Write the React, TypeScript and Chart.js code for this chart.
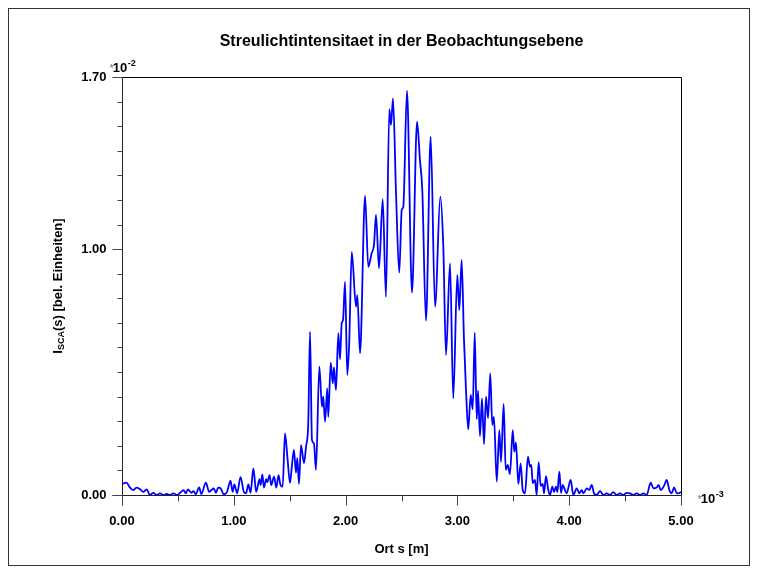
import React, { useEffect, useRef } from 'react';
import { Chart, registerables } from 'chart.js';

Chart.register(...registerables);

// ---- data (x in 1e-3 m, y in 1e-2 arbitrary units) ----
const xValues: number[] = [
  0.00, 0.04, 0.07, 0.10, 0.13, 0.16, 0.19, 0.22, 0.25, 0.28, 0.31, 0.34, 0.37, 0.40, 0.43, 0.46, 0.49,
  0.52, 0.55, 0.57, 0.59, 0.62, 0.64, 0.66, 0.69, 0.71, 0.75, 0.78, 0.80, 0.82, 0.84, 0.86, 0.88, 0.91,
  0.94, 0.97, 0.99, 1.005, 1.03, 1.06, 1.09, 1.11, 1.13, 1.15, 1.175, 1.20, 1.23, 1.24, 1.255, 1.27, 1.29,
  1.30, 1.32, 1.335, 1.36, 1.38, 1.40, 1.415, 1.437, 1.458, 1.479, 1.503, 1.518, 1.538, 1.556, 1.568,
  1.583, 1.601, 1.628, 1.646, 1.666, 1.682, 1.699, 1.717, 1.735, 1.765, 1.789, 1.800, 1.816, 1.836,
  1.845, 1.867, 1.885, 1.896, 1.914, 1.935, 1.950, 1.965, 1.977, 1.995, 2.015, 2.033, 2.055, 2.093,
  2.105, 2.129, 2.174, 2.203, 2.233, 2.254, 2.272, 2.299, 2.332, 2.361, 2.391, 2.406, 2.424, 2.451,
  2.480, 2.502, 2.516, 2.549, 2.594, 2.639, 2.665, 2.686, 2.719, 2.761, 2.800, 2.847, 2.874, 2.898,
  2.934, 2.963, 2.999, 3.017, 3.038, 3.059, 3.077, 3.097, 3.119, 3.137, 3.155, 3.173, 3.184, 3.202,
  3.220, 3.238, 3.256, 3.274, 3.294, 3.312, 3.327, 3.352, 3.375, 3.390, 3.414, 3.432, 3.450, 3.470,
  3.495, 3.509, 3.524, 3.545, 3.566, 3.584, 3.605, 3.631, 3.649, 3.661, 3.674, 3.694, 3.709, 3.727,
  3.745, 3.763, 3.775, 3.792, 3.813, 3.828, 3.849, 3.864, 3.882, 3.894, 3.912, 3.927, 3.942, 3.962,
  3.977, 4.013, 4.037, 4.067, 4.091, 4.112, 4.127, 4.157, 4.180, 4.201, 4.222, 4.246, 4.276, 4.305,
  4.335, 4.365, 4.394, 4.424, 4.454, 4.484, 4.514, 4.544, 4.573, 4.603, 4.633, 4.663, 4.693, 4.729,
  4.753, 4.783, 4.800, 4.818, 4.848, 4.872, 4.896, 4.917, 4.938, 4.962, 4.985, 5.000,
];

const yValues: number[] = [
  0.045, 0.050, 0.031, 0.020, 0.030, 0.024, 0.013, 0.023, 0.000, 0.009, 0.000, 0.007, 0.000, 0.004, 0.000, 0.007, 0.000,
  0.009, 0.020, 0.007, 0.023, 0.009, 0.016, 0.003, 0.031, 0.004, 0.050, 0.013, 0.020, 0.027, 0.009, 0.030, 0.028, 0.003,
  0.013, 0.058, 0.013, 0.043, 0.007, 0.073, 0.013, 0.007, 0.043, 0.009, 0.108, 0.013, 0.064, 0.040, 0.084, 0.030, 0.064,
  0.052, 0.081, 0.040, 0.075, 0.030, 0.081, 0.045, 0.034, 0.251, 0.156, 0.049, 0.110, 0.183, 0.091, 0.150,
  0.045, 0.203, 0.130, 0.196, 0.292, 0.664, 0.224, 0.210, 0.102, 0.522, 0.359, 0.400, 0.298, 0.434,
  0.318, 0.538, 0.454, 0.519, 0.427, 0.658, 0.552, 0.698, 0.712, 0.867, 0.488, 0.630, 0.989, 0.766,
  0.813, 0.576, 1.216, 0.928, 0.983, 1.017, 1.139, 0.922, 1.203, 0.806, 1.569, 1.505, 1.613, 1.227,
  0.904, 1.159, 1.172, 1.644, 0.823, 1.518, 1.362, 1.240, 0.709, 1.457, 0.766, 1.213, 1.010, 0.569,
  0.942, 0.393, 0.895, 0.752, 0.956, 0.630, 0.427, 0.267, 0.407, 0.349, 0.660, 0.308, 0.424, 0.240,
  0.393, 0.207, 0.400, 0.312, 0.495, 0.285, 0.318, 0.054, 0.264, 0.135, 0.370, 0.102, 0.122, 0.085,
  0.264, 0.176, 0.213, 0.045, 0.129, 0.020, 0.007, 0.156, 0.115, 0.122, 0.048, 0.061, 0.000, 0.134,
  0.037, 0.045, 0.007, 0.077, 0.020, 0.000, 0.034, 0.012, 0.034, 0.012, 0.095, 0.008, 0.041, 0.020,
  0.007, 0.061, 0.000, 0.027, 0.007, 0.020, 0.007, 0.027, 0.020, 0.041, 0.007, 0.000, 0.016, 0.000,
  0.007, 0.000, 0.012, 0.000, 0.007, 0.000, 0.009, 0.007, 0.000, 0.007, 0.000, 0.007, 0.000, 0.050,
  0.027, 0.031, 0.041, 0.020, 0.037, 0.061, 0.020, 0.007, 0.031, 0.007, 0.008, 0.013,
];

const xMajorTicks: number[] = [0, 1, 2, 3, 4, 5];
const xMajorLabels: string[] = ['0.00', '1.00', '2.00', '3.00', '4.00', '5.00'];
const xMinorTicks: number[] = [0.5, 1.5, 2.5, 3.5, 4.5];
const yLabelTicks: number[] = [0, 1, 1.7];
const yTickLabels: string[] = ['0.00', '1.00', '1.70'];
const yMinorTicks: number[] = [0.1, 0.2, 0.3, 0.4, 0.5, 0.6, 0.7, 0.8, 0.9, 1.1, 1.2, 1.3, 1.4, 1.5, 1.6];

const TITLE = 'Streulichtintensitaet in der Beobachtungsebene';
const X_TITLE = 'Ort s [m]';
const Y_TITLE_MAIN = 'I';
const Y_TITLE_SUB = 'SCA';
const Y_TITLE_REST = '(s) [bel. Einheiten]';

const FONT = '"Liberation Sans", Arial, Helvetica, sans-serif';

function drawSci(ctx: CanvasRenderingContext2D, x: number, baseY: number, exp: string) {
  ctx.textAlign = 'left';
  ctx.textBaseline = 'alphabetic';
  ctx.fillStyle = '#777';
  ctx.font = `11px ${FONT}`;
  ctx.fillText('*', x, baseY);
  const sw = ctx.measureText('*').width - 1;
  ctx.fillStyle = '#000';
  ctx.font = `bold 13px ${FONT}`;
  ctx.fillText('10', x + sw, baseY);
  const tw = ctx.measureText('10').width;
  ctx.font = `bold 9px ${FONT}`;
  ctx.fillText(exp, x + sw + tw + 0.5, baseY - 6);
}

const decorPlugin = {
  id: 'decor',
  beforeDatasetsDraw(chart: any) {
    const ctx: CanvasRenderingContext2D = chart.ctx;
    const { left, right, top, bottom } = chart.chartArea;
    const sx = chart.scales.x;
    const sy = chart.scales.y;
    const L = Math.round(left) + 0.5;
    const R = Math.round(right) + 0.5;
    const T = Math.round(top) + 0.5;
    const B = Math.round(bottom) + 0.5;
    ctx.save();

    // outer frame
    ctx.strokeStyle = '#333';
    ctx.lineWidth = 1;
    ctx.strokeRect(8.5, 8.5, 741, 557);

    // plot box top and right
    ctx.strokeStyle = '#000';
    ctx.beginPath();
    ctx.moveTo(L, T);
    ctx.lineTo(R, T);
    ctx.lineTo(R, B);
    ctx.stroke();

    // axes lines
    ctx.strokeStyle = '#222';
    ctx.beginPath();
    ctx.moveTo(L, T);
    ctx.lineTo(L, B + 10);
    ctx.moveTo(L - 10, B);
    ctx.lineTo(R, B);
    ctx.stroke();

    // y ticks
    ctx.strokeStyle = '#444';
    ctx.beginPath();
    yMinorTicks.forEach((v) => {
      const py = Math.round(sy.getPixelForValue(v)) + 0.5;
      ctx.moveTo(L - 5, py);
      ctx.lineTo(L, py);
    });
    yLabelTicks.forEach((v) => {
      const py = Math.round(sy.getPixelForValue(v)) + 0.5;
      ctx.moveTo(L - 10, py);
      ctx.lineTo(L, py);
    });
    // x ticks
    xMinorTicks.forEach((v) => {
      const px = Math.round(sx.getPixelForValue(v)) + 0.5;
      ctx.moveTo(px, B);
      ctx.lineTo(px, B + 6);
    });
    xMajorTicks.forEach((v) => {
      const px = Math.round(sx.getPixelForValue(v)) + 0.5;
      ctx.moveTo(px, B);
      ctx.lineTo(px, B + 10);
    });
    ctx.stroke();

    // tick labels
    ctx.fillStyle = '#000';
    ctx.font = `bold 13px ${FONT}`;
    ctx.textAlign = 'right';
    ctx.textBaseline = 'middle';
    yLabelTicks.forEach((v, i) => {
      ctx.fillText(yTickLabels[i], L - 16, sy.getPixelForValue(v) + 0.5);
    });
    ctx.textAlign = 'center';
    xMajorTicks.forEach((v, i) => {
      ctx.fillText(xMajorLabels[i], sx.getPixelForValue(v), B + 26);
    });

    // scale multipliers
    drawSci(ctx, L - 13, T - 6, '-2');
    drawSci(ctx, R + 16, B + 7, '-3');

    // title
    ctx.fillStyle = '#000';
    ctx.font = `bold 16px ${FONT}`;
    ctx.textAlign = 'center';
    ctx.textBaseline = 'middle';
    ctx.fillText(TITLE, (left + right) / 2, 42);

    // x title
    ctx.font = `bold 13px ${FONT}`;
    ctx.fillText(X_TITLE, (left + right) / 2, 549);

    // y title (rotated, with subscript)
    ctx.save();
    ctx.translate(58, (top + bottom) / 2);
    ctx.rotate(-Math.PI / 2);
    ctx.textAlign = 'left';
    ctx.textBaseline = 'middle';
    ctx.font = `bold 13px ${FONT}`;
    const w1 = ctx.measureText(Y_TITLE_MAIN).width;
    const w3 = ctx.measureText(Y_TITLE_REST).width;
    ctx.font = `bold 9px ${FONT}`;
    const w2 = ctx.measureText(Y_TITLE_SUB).width;
    let x0 = -(w1 + w2 + w3) / 2;
    ctx.font = `bold 13px ${FONT}`;
    ctx.fillText(Y_TITLE_MAIN, x0, 0);
    x0 += w1;
    ctx.font = `bold 9px ${FONT}`;
    ctx.fillText(Y_TITLE_SUB, x0, 4);
    x0 += w2;
    ctx.font = `bold 13px ${FONT}`;
    ctx.fillText(Y_TITLE_REST, x0, 0);
    ctx.restore();

    ctx.restore();
  },
};

export default function App() {
  const canvasRef = useRef<HTMLCanvasElement | null>(null);

  useEffect(() => {
    const canvas = canvasRef.current;
    if (!canvas) return;
    const points = xValues.map((x, i) => ({ x, y: yValues[i] }));
    const chart = new Chart(canvas, {
      type: 'line',
      data: {
        datasets: [
          {
            data: points,
            borderColor: '#0000ff',
            borderWidth: 1.8,
            pointRadius: 0,
            fill: false,
            cubicInterpolationMode: 'monotone',
          },
        ],
      },
      options: {
        animation: false,
        responsive: false,
        devicePixelRatio: 1,
        layout: { padding: { left: 122, right: 76, top: 77, bottom: 78 } },
        plugins: { legend: { display: false }, tooltip: { enabled: false }, title: { display: false } },
        scales: {
          x: { type: 'linear', min: 0, max: 5, display: false },
          y: { type: 'linear', min: 0, max: 1.7, display: false },
        },
      },
      plugins: [decorPlugin],
    } as any);
    return () => chart.destroy();
  }, []);

  return (
    <div style={{ position: 'absolute', left: 0, top: 0, width: 757, height: 573, background: '#fff' }}>
      <canvas ref={canvasRef} width={757} height={573} style={{ display: 'block', width: 757, height: 573 }} />
    </div>
  );
}
